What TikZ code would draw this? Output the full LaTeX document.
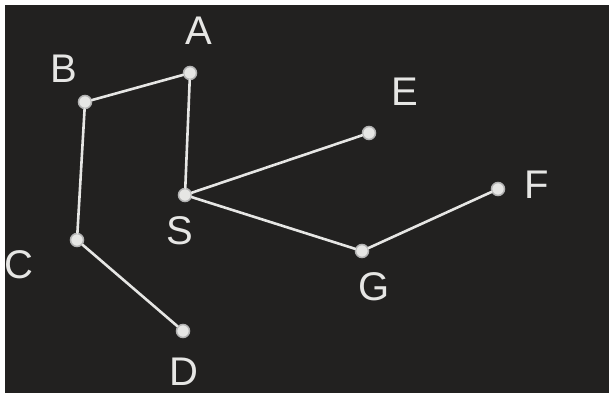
\documentclass[tikz,border=0pt]{standalone}
\usepackage{fontspec}
\setmainfont{Liberation Sans}
\definecolor{board}{HTML}{222120}
\definecolor{chalk}{HTML}{E6E6E4}
\begin{document}
\begin{tikzpicture}[x=1pt,y=-1pt,
  vertex/.style={circle,draw=gray!60,fill=chalk,line width=1.5pt,inner sep=0pt,minimum size=13pt},
  letter/.style={text=chalk,font=\fontsize{40}{40}\selectfont},
  edge/.style={draw=chalk,line width=2.6pt,line cap=round}]
  \fill[white] (0,0) rectangle (614,395);
  \fill[board] (5,5) rectangle (609,393);
  \useasboundingbox (0,0) rectangle (614,395);
  % vertices
  \node[vertex] (a) at (190,73) {};
  \node[vertex] (b) at (85,102) {};
  \node[vertex] (s) at (185,195) {};
  \node[vertex] (e) at (369,133) {};
  \node[vertex] (f) at (498,189) {};
  \node[vertex] (g) at (362,251) {};
  \node[vertex] (c) at (77,240) {};
  \node[vertex] (d) at (183,331) {};
  % edges
  \path[edge] (b)--(a) (a)--(s) (b)--(c) (c)--(d);
  \path[edge] (s)--(e) (s)--(g) (g)--(f);
  % labels
  \node[letter] (la) at (199,31) {A};
  \node[letter] (lb) at (64,69) {B};
  \node[letter] (le) at (405,92) {E};
  \node[letter] (ls) at (180,231) {S};
  \node[letter] (lf) at (537,185) {F};
  \node[letter] (lg) at (374,287) {G};
  \node[letter] (lc) at (19,265) {C};
  \node[letter] (ld) at (184,372) {D};
\end{tikzpicture}
\end{document}
